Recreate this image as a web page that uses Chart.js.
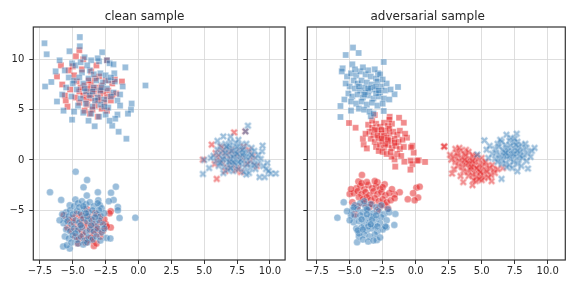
<!DOCTYPE html>
<html>
<head>
<meta charset="utf-8">
<script src="https://cdn.jsdelivr.net/npm/chart.js@4.4.1/dist/chart.umd.min.js"></script>
<style>
    html, body { margin: 0; padding: 0; background: #fff; }
    #wrap { position: relative; width: 576px; height: 288px; }
    #wrap canvas { position: absolute; top: 0; }
</style>
</head>
<body>
<div id="wrap">
    <canvas id="clean-chart" width="290" height="288" style="left:0"></canvas>
    <canvas id="adv-chart" width="286" height="288" style="left:290px"></canvas>
</div>
<script>
(function () {
    "use strict";

    // Ticks and titles
    var xTicks = [-7.5, -5, -2.5, 0, 2.5, 5, 7.5, 10];
    var yTicks = [-5, 0, 5, 10];
    var titles = ["clean sample", "adversarial sample"];

    // Clean sample - squares
    var cleanSquareBlue = [
        [-7.15,11.6],[-6.98,10.5],[-4.46,12.2],[-4.46,11.3],[-7.1,7.3],[-6.63,7.75],[-6.0,9.9],[-5.25,10.8],[-5.05,9.6],[-2.76,10.7],
        [-1.0,9.2],[0.53,7.4],[-1.84,8.6],[-1.2,7.3],[-0.52,5.6],[-0.57,5.0],[-0.8,4.6],[-1.6,4.5],[-1.77,4.1],[-0.92,2.1],
        [-1.51,2.8],[-5.05,4.0],[-3.33,3.35],[-2.0,3.4],[-4.1,10.2],[-3.6,9.9],[-3.0,9.8],[-2.4,9.9],[-2.2,9.6],[-4.8,9.4],
        [-5.6,8.9],[-4.3,8.7],[-3.7,8.9],[-2.9,8.6],[-2.5,8.4],[-1.9,9.5],[-5.3,8.2],[-4.9,7.9],[-4.2,7.6],[-3.8,8.1],
        [-3.2,7.9],[-2.7,7.7],[-2.3,7.9],[-1.8,7.8],[-5.5,7.2],[-4.7,7.0],[-4.0,6.8],[-3.4,7.2],[-2.9,6.9],[-2.4,7.1],
        [-1.9,6.7],[-5.1,6.3],[-4.4,6.1],[-3.7,6.4],[-3.1,6.2],[-2.6,6.0],[-2.1,6.3],[-1.6,5.9],[-5.8,6.5],[-4.6,5.4],
        [-4.0,5.6],[-3.5,5.3],[-2.9,5.5],[-2.3,5.2],[-1.4,5.4],[-4.9,4.8],[-4.2,4.7],[-3.6,4.6],[-3.0,4.3],[-2.5,4.5],
        [-2.2,3.9],[-3.8,3.9],[-6.2,5.8],[-5.7,4.9],[-4.5,8.2],[-3.4,8.5],[-2.1,8.2],[-6.3,8.8],[-3.9,9.4],[-1.4,6.5],
        [-3.5,6.8],[-2.8,7.2],[-4.1,7.1],[-3.3,5.9],[-2.6,5.3],[-4.4,9.7],[-3.1,10.1],[-5.0,7.6]
    ];
    var cleanSquareRed = [
        [-4.5,10.9],[-4.76,10.3],[-5.9,9.4],[-6.2,8.3],[-5.53,5.9],[-5.4,5.3],[-3.7,4.6],[-3.1,4.3],[-1.26,7.8],[-2.4,9.9],
        [-5.0,9.3],[-5.3,8.9],[-4.9,8.4],[-4.3,9.0],[-3.6,8.8],[-3.0,8.3],[-2.5,7.9],[-2.0,7.6],[-4.7,7.8],[-4.1,7.4],
        [-3.6,7.6],[-3.2,7.2],[-2.8,7.4],[-2.3,6.9],[-1.7,6.6],[-5.2,7.0],[-4.5,6.8],[-3.9,6.9],[-3.4,6.6],[-2.9,6.5],
        [-2.4,6.3],[-5.6,6.4],[-4.8,6.2],[-4.2,6.4],[-3.6,6.1],[-3.1,5.9],[-2.6,5.7],[-2.1,5.9],[-4.5,5.7],[-3.9,5.5],
        [-3.3,5.4],[-2.8,5.1],[-4.1,4.9],[-3.5,5.0],[-2.4,4.9],[-3.8,7.9],[-3.3,8.1],[-4.4,7.2],[-2.7,6.8],[-3.0,6.0],
        [-4.0,6.0],[-3.7,7.1],[-2.0,6.4],[-5.8,7.5],[-4.2,10.0],[-3.2,9.4],[-1.8,8.0],[-3.4,7.0],[-2.9,7.0],[-3.8,6.5]
    ];

    // Clean sample - crosses
    var cleanCrossBlue = [
        [8.32,3.4],[8.14,2.84],[6.45,2.34],[4.9,-1.39],[5.37,-0.8],[6.45,-1.3],[8.2,-1.45],[9.2,-1.7],[9.6,-1.7],[10.06,-1.35],
        [10.44,-1.35],[9.8,-0.3],[9.4,0.86],[9.44,1.42],[5.0,0.0],[6.0,1.9],[7.0,2.3],[7.6,2.0],[6.2,1.4],[6.6,1.6],
        [7.0,1.8],[7.4,1.7],[7.8,1.5],[8.2,1.6],[8.6,1.2],[6.0,1.0],[6.4,0.9],[6.8,1.1],[7.2,1.2],[7.6,1.0],
        [8.0,1.1],[8.4,0.8],[8.8,0.9],[9.1,0.5],[5.7,0.4],[6.1,0.5],[6.5,0.3],[6.9,0.6],[7.3,0.5],[7.7,0.4],
        [8.1,0.6],[8.5,0.3],[8.9,0.2],[9.3,0.1],[5.9,-0.1],[6.3,-0.2],[6.7,0.0],[7.1,-0.1],[7.5,0.1],[7.9,-0.2],
        [8.3,0.0],[8.7,-0.3],[9.1,-0.4],[9.5,-0.6],[6.1,-0.6],[6.5,-0.7],[6.9,-0.5],[7.3,-0.6],[7.7,-0.4],[8.1,-0.7],
        [8.5,-0.8],[8.9,-0.9],[6.8,-1.0],[7.2,-1.1],[7.6,-0.9],[8.0,-1.2],[8.4,-1.3],[7.0,0.2],[7.4,0.8],[7.8,0.0],
        [8.2,0.3],[6.6,0.7],[7.2,0.3],[7.6,-0.2],[8.0,0.7],[7.3,-0.3],[6.9,1.4],[8.6,0.5],[7.1,0.9],[7.9,0.5],
        [6.4,0.1],[8.8,-0.5],[7.5,1.3],[6.2,-0.3],[9.7,-0.9],[9.9,-1.1],[5.5,0.2],[7.0,-0.8],[7.5,0.6],[7.2,-0.2],
        [8.3,-0.4],[6.7,1.3],[7.9,1.0],[6.9,-0.2]
    ];
    var cleanCrossRed = [
        [5.57,1.52],[5.87,0.69],[4.9,0.03],[5.95,-1.88],[7.27,2.74],[8.12,2.84],[6.32,0.69],[6.0,0.2],[6.4,-0.3],[6.7,0.4],
        [7.0,-0.3],[7.3,0.6],[7.6,-0.7],[7.9,0.2],[8.2,-0.4],[6.5,1.1],[7.1,1.0],[7.7,0.9],[8.5,-0.1],[6.8,-0.8],
        [7.4,-1.0],[8.7,0.4],[6.2,0.0],[7.5,0.3],[7.2,-0.5],[6.9,0.8],[8.0,1.3],[5.8,-0.4],[7.8,-1.2],[6.6,-1.1],
        [8.4,1.0],[7.0,0.1],[6.3,1.3],[9.0,-0.6]
    ];

    // Clean sample - circles
    var cleanCircleBlue = [
        [-4.78,-1.16],[-3.91,-1.99],[-4.18,-2.72],[-6.73,-3.21],[-5.88,-3.97],[-3.93,-3.54],[-3.09,-3.21],[-2.09,-3.25],[-1.72,-2.65],[-1.89,-3.97],
        [-2.26,-4.1],[-1.57,-4.67],[-1.57,-5.0],[-0.24,-5.73],[-1.44,-5.76],[-2.44,-7.75],[-2.14,-7.8],[-5.73,-8.6],[-5.23,-8.8],[-5.45,-8.48],
        [-4.8,-3.94],[-5.23,-4.5],[-3.06,-4.0],[-2.94,-4.5],[-5.5,-5.2],[-5.2,-5.0],[-4.9,-4.6],[-4.6,-4.3],[-4.3,-4.1],[-4.0,-4.4],
        [-3.7,-4.2],[-3.4,-4.6],[-3.1,-4.3],[-2.8,-4.8],[-5.6,-5.8],[-5.3,-5.6],[-5.0,-5.4],[-4.7,-5.1],[-4.4,-5.3],[-4.1,-4.9],
        [-3.8,-5.2],[-3.5,-5.0],[-3.2,-5.4],[-2.9,-5.6],[-2.6,-5.3],[-5.7,-6.3],[-5.4,-6.1],[-5.1,-6.4],[-4.8,-6.0],[-4.5,-6.2],
        [-4.2,-5.8],[-3.9,-6.1],[-3.6,-5.9],[-3.3,-6.3],[-3.0,-6.0],[-2.7,-6.4],[-5.5,-6.9],[-5.2,-7.1],[-4.9,-6.8],[-4.6,-7.0],
        [-4.3,-6.7],[-4.0,-7.2],[-3.7,-6.9],[-3.4,-7.1],[-3.1,-6.8],[-2.8,-7.2],[-5.6,-7.6],[-5.3,-7.8],[-5.0,-7.5],[-4.7,-7.9],
        [-4.4,-7.6],[-4.1,-8.0],[-3.8,-7.7],[-3.5,-7.9],[-3.2,-7.6],[-5.1,-8.2],[-4.6,-8.3],[-4.2,-8.4],[-3.9,-8.2],[-2.9,-8.0],
        [-4.5,-4.7],[-3.9,-5.6],[-4.4,-6.5],[-3.6,-6.5],[-4.8,-7.3],[-4.0,-5.3],[-3.3,-5.7],[-2.6,-6.8],[-5.8,-5.4],[-6.0,-6.0],
        [-4.2,-4.6],[-3.0,-5.0]
    ];
    var cleanCircleRed = [
        [-2.11,-5.1],[-2.11,-6.7],[-2.49,-6.36],[-3.36,-6.82],[-3.39,-8.54],[-4.61,-8.3],[-5.68,-5.5],[-2.2,-5.3],[-4.7,-5.4],[-4.4,-5.9],
        [-4.1,-6.2],[-3.8,-5.6],[-3.5,-6.0],[-3.2,-6.6],[-2.9,-6.2],[-2.7,-7.0],[-4.9,-6.3],[-4.6,-6.8],[-4.3,-7.1],[-4.0,-6.6],
        [-3.7,-7.0],[-3.4,-7.4],[-3.1,-7.1],[-2.9,-7.6],[-5.1,-7.0],[-4.8,-7.6],[-4.5,-7.8],[-4.2,-7.5],[-3.9,-7.9],[-3.6,-7.7],
        [-3.0,-5.6],[-3.9,-4.9],[-4.3,-5.5],[-5.3,-6.0],[-3.3,-5.3],[-2.6,-5.9],[-4.0,-8.2],[-3.5,-8.0],[-5.0,-5.8],[-4.4,-6.4],
        [-3.6,-6.4],[-2.4,-6.6],[-5.4,-6.7],[-3.2,-8.3]
    ];

    // Adversarial sample - squares
    var advSquareBlue = [
        [-4.75,11.16],[-4.32,10.63],[-5.3,10.43],[-4.8,9.5],[-5.53,9.1],[-2.42,9.73],[-2.85,8.6],[-5.7,5.36],[-5.7,4.27],[-1.34,7.25],
        [-1.6,6.52],[-2.42,4.87],[-3.4,4.34],[-5.2,8.3],[-4.9,8.6],[-4.5,8.4],[-4.2,8.8],[-3.8,8.5],[-3.4,8.3],[-3.0,8.1],
        [-4.7,7.9],[-4.4,7.6],[-4.1,7.9],[-3.7,7.7],[-3.3,7.5],[-2.9,7.8],[-2.6,7.3],[-2.2,7.6],[-5.0,7.3],[-4.6,7.1],
        [-4.2,6.9],[-3.9,7.2],[-3.5,6.9],[-3.1,7.0],[-2.7,6.7],[-2.3,6.9],[-1.9,7.0],[-5.1,6.6],[-4.8,6.3],[-4.4,6.5],
        [-4.0,6.2],[-3.6,6.4],[-3.2,6.1],[-2.8,6.3],[-2.4,6.1],[-4.9,5.8],[-4.5,5.6],[-4.1,5.8],[-3.7,5.5],[-3.3,5.7],
        [-2.9,5.4],[-2.5,5.6],[-4.3,5.1],[-3.9,5.0],[-3.5,4.8],[-5.4,6.0],[-5.3,7.6],[-3.6,8.9],[-4.0,9.2],[-3.1,9.0],
        [-2.7,8.5],[-4.6,9.0],[-3.8,6.7],[-3.0,6.6],[-4.3,7.3],[-3.4,7.2],[-2.5,8.0],[-5.6,8.8],[-4.9,4.9],[-2.0,6.0],
        [-3.2,4.6],[-3.6,7.1],[-3.0,7.3],[-2.8,6.9],[-3.9,6.5]
    ];
    var advSquareRed = [
        [-5.05,3.67],[-4.55,3.2],[-3.1,4.47],[-1.97,4.3],[-1.26,4.2],[-0.9,3.7],[-0.66,2.2],[-0.25,1.4],[-0.15,0.73],[0.23,-0.03],
        [0.71,-0.2],[-0.25,-0.43],[-0.4,-0.96],[-0.86,-0.17],[-1.6,0.06],[-3.94,1.55],[-4.0,2.1],[-3.7,1.15],[-1.82,0.33],[-1.55,-0.66],
        [-0.38,-0.07],[0.12,-0.07],[-0.36,1.26],[-3.6,3.5],[-3.3,3.2],[-3.0,3.6],[-2.7,3.3],[-2.4,3.7],[-2.1,3.4],[-1.8,3.6],
        [-3.5,2.8],[-3.2,2.5],[-2.9,2.9],[-2.6,2.6],[-2.3,2.9],[-2.0,2.6],[-1.7,2.8],[-1.4,2.5],[-3.4,2.1],[-3.1,1.8],
        [-2.8,2.2],[-2.5,1.9],[-2.2,2.2],[-1.9,1.9],[-1.6,2.1],[-1.3,1.8],[-1.0,2.0],[-3.0,1.3],[-2.7,1.5],[-2.4,1.2],
        [-2.1,1.5],[-1.8,1.2],[-1.5,1.4],[-1.2,1.1],[-0.9,1.3],[-2.5,0.8],[-2.2,0.6],[-1.9,0.8],[-1.4,0.6],[-1.1,0.4],
        [-2.8,0.9],[-3.3,3.9],[-2.0,4.0],[-1.2,2.9],[-0.8,2.6],[-3.8,2.6],[-2.6,3.0],[-2.3,1.6],[-1.6,1.7],[-2.9,2.4],
        [-2.0,3.1],[-3.1,3.0],[-2.4,2.4],[-2.6,2.1],[-2.1,2.0]
    ];

    // Adversarial sample - crosses
    var advCrossBlue = [
        [5.2,1.95],[5.37,1.02],[4.67,0.53],[6.87,2.5],[7.65,2.6],[9.0,1.2],[8.5,-0.86],[7.7,-1.12],[6.5,-1.88],[6.2,1.6],
        [6.5,1.8],[6.8,1.5],[7.1,1.9],[7.4,1.7],[7.7,1.8],[8.0,1.5],[6.0,1.1],[6.3,1.3],[6.6,1.0],[6.9,1.2],
        [7.2,1.4],[7.5,1.1],[7.8,1.3],[8.1,1.0],[8.4,1.2],[5.8,0.6],[6.1,0.7],[6.4,0.5],[6.7,0.8],[7.0,0.6],
        [7.3,0.9],[7.6,0.6],[7.9,0.8],[8.2,0.5],[8.5,0.7],[6.0,0.1],[6.3,0.2],[6.6,0.0],[6.9,0.3],[7.2,0.1],
        [7.5,0.3],[7.8,0.0],[8.1,0.2],[8.4,-0.1],[6.5,-0.4],[6.8,-0.3],[7.1,-0.5],[7.4,-0.2],[7.7,-0.4],[8.0,-0.6],
        [7.2,2.2],[6.4,2.0],[5.6,1.4],[7.0,0.9],[7.6,1.5],[6.7,0.4],[7.9,0.4],[8.7,0.3],[8.8,0.9],[7.3,-0.8],
        [6.2,-0.2],[5.5,0.2],[7.5,2.1],[8.3,1.6],[6.9,-0.7],[7.1,0.4],[7.4,0.6],[6.8,0.7],[7.7,0.9]
    ];
    var advCrossRed = [
        [2.18,1.35],[3.0,1.1],[3.8,1.0],[2.7,0.03],[2.75,-1.35],[3.6,-2.2],[4.3,-2.5],[4.55,-2.1],[5.75,-2.1],[6.0,-1.3],
        [6.6,-0.8],[2.14,1.33],[3.1,0.7],[3.4,0.9],[3.7,0.6],[4.0,0.8],[4.3,0.5],[2.9,0.3],[3.2,0.4],[3.5,0.2],
        [3.8,0.4],[4.1,0.1],[4.4,0.3],[4.7,0.0],[5.0,0.2],[3.0,-0.2],[3.3,-0.1],[3.6,-0.3],[3.9,-0.1],[4.2,-0.4],
        [4.5,-0.2],[4.8,-0.5],[5.1,-0.3],[5.4,-0.6],[3.2,-0.6],[3.5,-0.7],[3.8,-0.5],[4.1,-0.8],[4.4,-0.6],[4.7,-0.9],
        [5.0,-0.7],[5.3,-1.0],[5.6,-0.8],[5.9,-1.0],[3.6,-1.1],[3.9,-1.2],[4.2,-1.0],[4.5,-1.3],[4.8,-1.1],[5.1,-1.4],
        [5.4,-1.2],[5.7,-1.5],[4.0,-1.6],[4.3,-1.5],[4.6,-1.7],[4.9,-1.6],[5.2,-1.8],[5.5,-1.7],[4.4,-2.0],[5.0,-2.0],
        [3.4,-1.6],[2.9,-0.9],[3.7,0.0],[4.6,0.4],[5.3,-0.2],[6.2,-0.9],[4.0,-0.3],[4.8,-1.9],[3.3,1.2],[2.6,0.5],
        [5.8,-0.5],[4.3,-0.1],[4.6,-0.8],[4.9,-1.2],[4.2,-0.7]
    ];

    // Adversarial sample - circles
    var advCircleBlue = [
        [-5.45,-4.2],[-5.93,-5.73],[-1.54,-5.36],[-1.62,-6.46],[-2.22,-6.69],[-2.93,-7.95],[-4.44,-8.18],[-4.3,-7.6],[-4.6,-4.5],[-4.2,-4.3],
        [-3.8,-4.6],[-3.4,-4.4],[-3.0,-4.7],[-2.6,-4.5],[-4.8,-5.0],[-4.4,-4.9],[-4.0,-5.2],[-3.6,-5.0],[-3.2,-5.3],[-2.8,-5.1],
        [-2.4,-5.4],[-2.0,-5.2],[-4.6,-5.6],[-4.2,-5.5],[-3.8,-5.8],[-3.4,-5.6],[-3.0,-5.9],[-2.6,-5.7],[-2.2,-6.0],[-4.7,-6.2],
        [-4.3,-6.1],[-3.9,-6.4],[-3.5,-6.2],[-3.1,-6.5],[-2.7,-6.3],[-4.5,-6.8],[-4.1,-6.7],[-3.7,-7.0],[-3.3,-6.8],[-2.9,-7.1],
        [-2.5,-6.9],[-4.3,-7.3],[-3.9,-7.4],[-3.5,-7.6],[-3.1,-7.4],[-2.7,-7.7],[-4.0,-7.9],[-3.6,-8.1],[-3.2,-8.0],[-4.9,-5.5],
        [-5.0,-6.0],[-3.7,-4.9],[-3.3,-5.9],[-4.1,-5.9],[-2.9,-6.6],[-3.6,-6.6],[-4.4,-7.0],[-3.0,-5.5],[-3.9,-4.1],[-2.3,-6.6],
        [-4.7,-4.7],[-5.2,-5.1],[-2.1,-4.9],[-3.7,-5.4],[-3.4,-6.4],[-4.0,-6.9]
    ];
    var advCircleRed = [
        [-4.07,-1.49],[-4.34,-2.15],[-2.9,-2.22],[-2.35,-2.42],[-1.21,-3.21],[-1.59,-3.41],[-5.0,-3.38],[0.05,-2.75],[0.3,-2.65],[0.18,-3.74],
        [-0.08,-4.0],[-2.1,-4.8],[-2.35,-4.47],[-4.6,-5.4],[-4.5,-2.8],[-4.2,-2.6],[-3.9,-2.9],[-3.6,-2.5],[-3.3,-2.8],[-3.0,-2.6],
        [-2.7,-2.9],[-4.7,-3.3],[-4.4,-3.1],[-4.1,-3.4],[-3.8,-3.2],[-3.5,-3.5],[-3.2,-3.1],[-2.9,-3.4],[-2.6,-3.2],[-2.3,-3.5],
        [-2.0,-3.3],[-1.8,-2.9],[-4.3,-3.7],[-4.0,-3.9],[-3.7,-3.7],[-3.4,-4.0],[-3.1,-3.8],[-2.8,-4.1],[-2.5,-3.9],[-2.2,-4.2],
        [-1.9,-4.0],[-4.8,-4.2],[-3.9,-4.3],[-3.3,-4.4],[-2.7,-4.6],[-3.7,-2.2],[-3.1,-2.1],[-2.5,-2.7],[-4.1,-2.3],[-1.6,-3.8],
        [-3.5,-4.7],[-4.4,-4.6],[-2.9,-5.0],[-0.6,-3.9],[-0.2,-3.3],[-4.9,-2.9]
    ];

    var BLUE = "rgba(55, 126, 184, 0.5)";
    var RED = "rgba(228, 26, 28, 0.5)";
    var EDGE = "rgba(255, 255, 255, 0.5)";

    // Filled "X" marker, as seaborn draws it
    function xMarker(color) {
        var c = document.createElement("canvas");
        c.width = 11;
        c.height = 11;
        var g = c.getContext("2d");
        var L = 3.9, w = 1.25;
        g.translate(5.5, 5.5);
        g.rotate(Math.PI / 4);
        g.beginPath();
        g.moveTo(-w, -L); g.lineTo(w, -L); g.lineTo(w, -w); g.lineTo(L, -w);
        g.lineTo(L, w); g.lineTo(w, w); g.lineTo(w, L); g.lineTo(-w, L);
        g.lineTo(-w, w); g.lineTo(-L, w); g.lineTo(-L, -w); g.lineTo(-w, -w);
        g.closePath();
        g.fillStyle = color;
        g.fill();
        g.lineWidth = 0.6;
        g.strokeStyle = EDGE;
        g.stroke();
        return c;
    }

    var blueX = xMarker(BLUE);
    var redX = xMarker(RED);

    function toPoints(pairs) {
        return pairs.map(function (p) { return {x: p[0], y: p[1]}; });
    }

    function markerSet(pairs, color, shape) {
        var set = {
            data: toPoints(pairs),
            pointStyle: shape,
            backgroundColor: color,
            borderColor: EDGE,
            borderWidth: 0.6,
            pointRadius: 3.5
        };
        if (shape === "rect") {
            set.pointRadius = 4.3;
        }
        if (shape === "x") {
            set.pointStyle = color === BLUE ? blueX : redX;
        }
        return set;
    }

    function minus(s) {
        return s.replace("-", "\u2212");
    }

    // Frame round the plot area
    var frame = {
        id: "frame",
        afterDraw: function (chart) {
            var a = chart.chartArea, c = chart.ctx;
            c.save();
            c.strokeStyle = "#333333";
            c.lineWidth = 1.2;
            c.strokeRect(a.left, a.top, a.right - a.left, a.bottom - a.top);
            c.restore();
        }
    };

    function makeChart(id, title, sets, xMin, xMax, yAxisWidth, showYLabels, padRight) {
        var ctx = document.getElementById(id).getContext("2d");
        return new Chart(ctx, {
            type: "scatter",
            data: {datasets: sets},
            options: {
                responsive: false,
                animation: false,
                devicePixelRatio: 1,
                layout: {padding: {top: 0, left: 0, bottom: 0, right: padRight}},
                plugins: {
                    legend: {display: false},
                    tooltip: {enabled: false},
                    title: {
                        display: true,
                        text: title,
                        color: "#262626",
                        font: {family: "DejaVu Sans", size: 12, weight: "normal"},
                        padding: {top: 10, bottom: 2.6}
                    }
                },
                scales: {
                    x: {
                        type: "linear",
                        min: xMin,
                        max: xMax,
                        afterBuildTicks: function (axis) {
                            axis.ticks = xTicks.map(function (v) { return {value: v}; });
                        },
                        afterFit: function (axis) { axis.height = 28; },
                        border: {display: false},
                        grid: {color: "#d6d6d6", lineWidth: 0.8, tickColor: "#333333", tickLength: 4, tickWidth: 1},
                        ticks: {
                            color: "#262626",
                            padding: 1,
                            maxRotation: 0,
                            font: {family: "DejaVu Sans", size: 10},
                            callback: function (v) { return minus(v.toFixed(1)); }
                        }
                    },
                    y: {
                        type: "linear",
                        min: -9.94,
                        max: 13.21,
                        afterBuildTicks: function (axis) {
                            axis.ticks = yTicks.map(function (v) { return {value: v}; });
                        },
                        afterFit: function (axis) { axis.width = yAxisWidth; },
                        border: {display: false},
                        grid: {color: "#d6d6d6", lineWidth: 0.8, tickColor: "#333333", tickLength: 4, tickWidth: 1},
                        ticks: {
                            display: showYLabels,
                            color: "#262626",
                            padding: 5,
                            font: {family: "DejaVu Sans", size: 10},
                            callback: function (v) { return minus(String(v)); }
                        }
                    }
                }
            },
            plugins: [frame]
        });
    }

    // Clean sample chart
    makeChart("clean-chart", titles[0], [
        markerSet(cleanSquareBlue, BLUE, "rect"),
        markerSet(cleanCrossBlue, BLUE, "x"),
        markerSet(cleanCircleBlue, BLUE, "circle"),
        markerSet(cleanSquareRed, RED, "rect"),
        markerSet(cleanCrossRed, RED, "x"),
        markerSet(cleanCircleRed, RED, "circle")
    ], -8.0, 11.15, 33.3, true, 1);

    // Adversarial sample chart
    makeChart("adv-chart", titles[1], [
        markerSet(advSquareBlue, BLUE, "rect"),
        markerSet(advCrossBlue, BLUE, "x"),
        markerSet(advCircleBlue, BLUE, "circle"),
        markerSet(advSquareRed, RED, "rect"),
        markerSet(advCrossRed, RED, "x"),
        markerSet(advCircleRed, RED, "circle")
    ], -8.21, 11.33, 17.3, false, 10.7);

})();
</script>
</body>
</html>
